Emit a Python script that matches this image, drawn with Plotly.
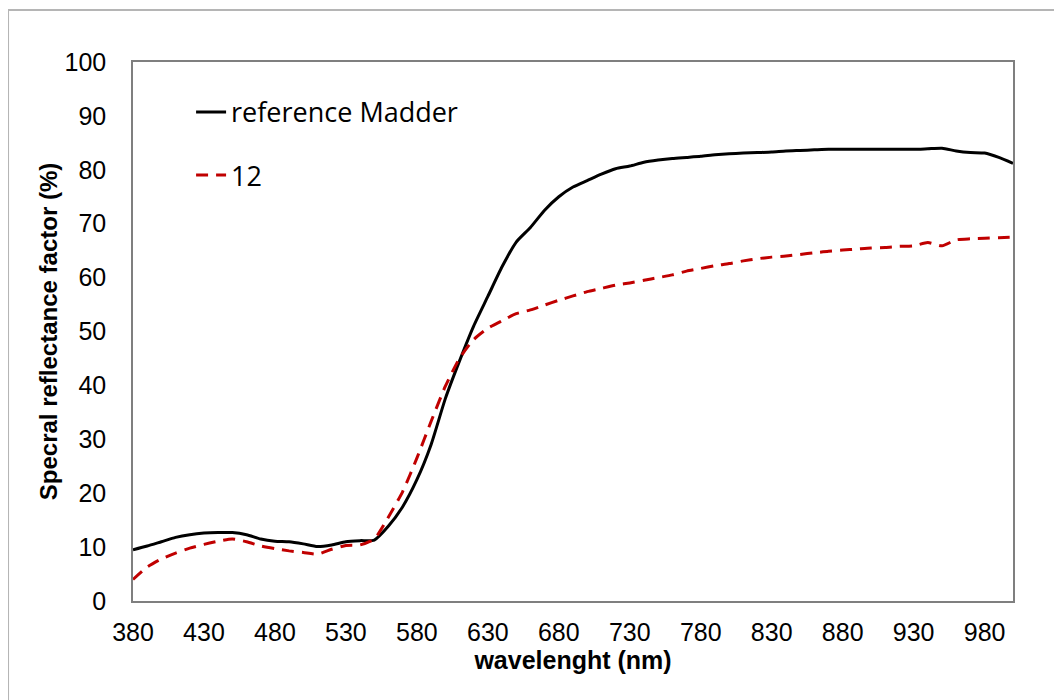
import plotly.graph_objects as go

wavelength = list(range(380, 1001, 10))

reference_madder = [
    9.5, 10.2, 11.0, 11.8, 12.3, 12.6, 12.7, 12.7, 12.3, 11.5,
    11.1, 11.0, 10.6, 10.1, 10.4, 11.0, 11.2, 11.3, 13.9, 17.5,
    22.5, 29.0, 37.5, 44.5, 51.0, 56.5, 62.0, 66.6, 69.3, 72.5,
    75.0, 76.8, 78.0, 79.2, 80.2, 80.7, 81.4, 81.8, 82.1, 82.3,
    82.5, 82.8, 83.0, 83.1, 83.2, 83.3, 83.5, 83.6, 83.7, 83.8,
    83.8, 83.8, 83.8, 83.8, 83.8, 83.8, 83.9, 84.0, 83.5, 83.2,
    83.1, 82.3, 81.2,
]

sample_12 = [
    4.0, 6.3, 7.8, 8.9, 9.8, 10.5, 11.1, 11.5, 11.0, 10.2,
    9.7, 9.3, 9.0, 8.7, 9.6, 10.3, 10.4, 11.5, 15.6, 20.3,
    26.5, 33.3, 39.8, 45.0, 48.5, 50.6, 52.0, 53.3, 54.0, 54.9,
    55.8, 56.6, 57.4, 58.0, 58.6, 59.0, 59.5, 60.0, 60.5, 61.2,
    61.7, 62.2, 62.6, 63.1, 63.5, 63.8, 64.0, 64.3, 64.6, 64.9,
    65.1, 65.3, 65.5, 65.6, 65.8, 65.9, 66.5, 65.9, 67.0, 67.2,
    67.3, 67.4, 67.5,
]

x_ticks = list(range(380, 981, 50))
y_ticks = list(range(0, 101, 10))

fig = go.Figure()
fig.add_trace(go.Scatter(
    x=wavelength, y=reference_madder, mode="lines", name="reference Madder",
    line=dict(color="#000000", width=3, shape="spline", smoothing=0.6), legendgroup="a",
))
fig.add_trace(go.Scatter(
    x=wavelength, y=sample_12, mode="lines", name="12",
    line=dict(color="#c00000", width=3, dash="12px,8px", shape="spline", smoothing=0.6),
    legendgroup="b",
))

fig.update_layout(
    width=1062, height=700,
    margin=dict(l=125, r=57, t=54, b=107),
    paper_bgcolor="white", plot_bgcolor="white",
    font=dict(family="Liberation Sans, Arial, sans-serif", color="#000000"),
    showlegend=True,
    legend=dict(
        x=0.066, y=0.952, xanchor="left", yanchor="top",
        bgcolor="rgba(0,0,0,0)",
        font=dict(family="Open Sans, sans-serif", size=27, color="#000000"),
        tracegroupgap=25,
        traceorder="grouped",
    ),
    xaxis=dict(
        range=[380, 1000], tickvals=x_ticks, ticktext=[str(v) for v in x_ticks],
        showgrid=False, zeroline=False,
        showline=True, mirror=True, linecolor="#7f7f7f", linewidth=1.5,
        ticks="outside", ticklen=8, tickcolor="rgba(0,0,0,0)",
        tickfont=dict(size=25),
        title=dict(text="<b>wavelenght (nm)</b>", font=dict(size=25), standoff=5),
    ),
    yaxis=dict(
        range=[0, 100], tickvals=y_ticks, ticktext=[str(v) for v in y_ticks],
        showgrid=False, zeroline=False,
        showline=True, mirror=True, linecolor="#7f7f7f", linewidth=1.5,
        ticks="outside", ticklen=20, tickcolor="rgba(0,0,0,0)",
        tickfont=dict(size=25),
        title=dict(text="<b>Specral reflectance factor (%)</b>", font=dict(size=24), standoff=0),
    ),
    shapes=[dict(
        type="rect", xref="paper", yref="paper",
        x0=-0.142, x1=1.1, y0=-0.25, y1=1.0965,
        line=dict(color="#b5b5b5", width=2), fillcolor="rgba(0,0,0,0)", layer="below",
    )],
)

fig.write_html("out.html")
